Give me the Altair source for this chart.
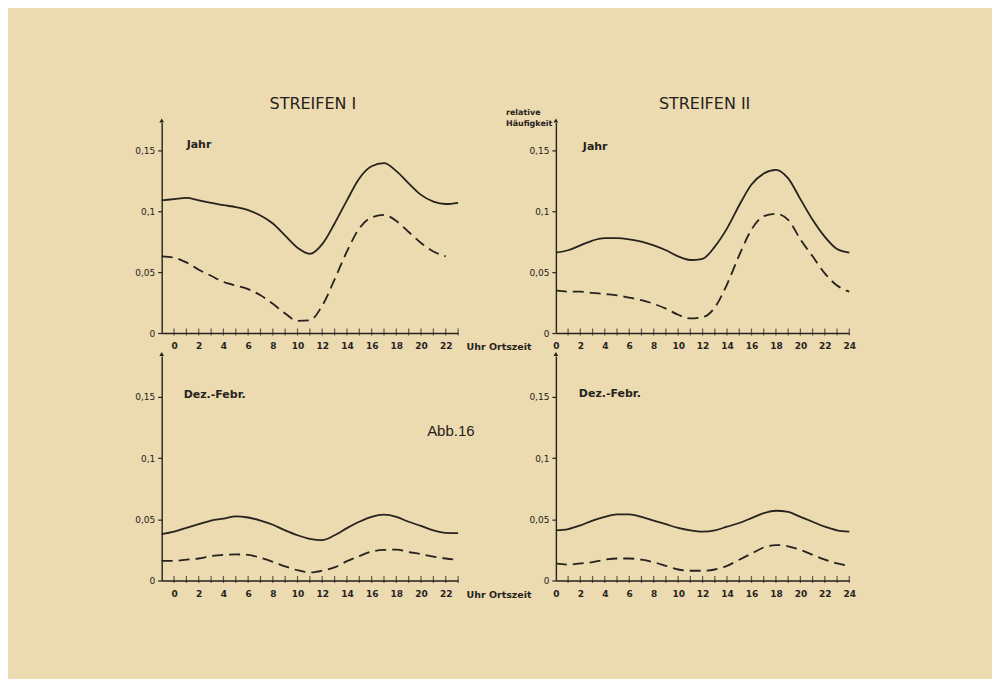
import altair as alt
import pandas as pd

# ---------------- data ----------------
hours_left = list(range(-1, 24))      # Streifen I panels: axis from -1 to 23
hours_right = list(range(0, 25))      # Streifen II panels: axis from 0 to 24
labels_left = list(range(0, 23, 2))
labels_right = list(range(0, 25, 2))
ytick_values = [0, 0.05, 0.1, 0.15]

s1_jahr_solid = [0.109, 0.110, 0.111, 0.109, 0.107, 0.105, 0.1035, 0.101, 0.0965, 0.090,
                 0.080, 0.070, 0.065, 0.073, 0.090, 0.109, 0.127, 0.137, 0.1395, 0.133,
                 0.123, 0.1135, 0.108, 0.106, 0.107]
s1_jahr_dashed = [0.063, 0.062, 0.058, 0.052, 0.047, 0.042, 0.039, 0.036, 0.031, 0.024,
                  0.016, 0.010, 0.0105, 0.0225, 0.044, 0.067, 0.086, 0.095, 0.097, 0.092,
                  0.083, 0.074, 0.067, 0.063]
s2_jahr_solid = [0.066, 0.068, 0.072, 0.076, 0.078, 0.078, 0.077, 0.075, 0.072, 0.068,
                 0.063, 0.060, 0.061, 0.071, 0.086, 0.105, 0.122, 0.131, 0.134, 0.127,
                 0.110, 0.093, 0.079, 0.069, 0.066]
s2_jahr_dashed = [0.035, 0.034, 0.034, 0.033, 0.032, 0.031, 0.029, 0.027, 0.024, 0.020,
                  0.015, 0.012, 0.013, 0.021, 0.040, 0.064, 0.085, 0.096, 0.098, 0.093,
                  0.077, 0.063, 0.049, 0.039, 0.034]
s1_dez_solid = [0.038, 0.040, 0.043, 0.046, 0.049, 0.0505, 0.0525, 0.0515, 0.049, 0.0456,
                0.041, 0.037, 0.034, 0.033, 0.037, 0.0428, 0.048, 0.052, 0.0538, 0.052,
                0.048, 0.0446, 0.041, 0.039, 0.0388]
s1_dez_dashed = [0.016, 0.016, 0.017, 0.018, 0.020, 0.021, 0.0213, 0.021, 0.0185, 0.0153,
                 0.0115, 0.0084, 0.0066, 0.008, 0.0107, 0.0158, 0.020, 0.0237, 0.025, 0.0252,
                 0.0233, 0.0216, 0.0195, 0.018, 0.017]
s2_dez_solid = [0.041, 0.042, 0.045, 0.049, 0.052, 0.054, 0.054, 0.052, 0.049, 0.046,
                0.043, 0.041, 0.040, 0.041, 0.044, 0.047, 0.051, 0.055, 0.057, 0.056,
                0.052, 0.048, 0.044, 0.041, 0.040]
s2_dez_dashed = [0.014, 0.013, 0.014, 0.015, 0.017, 0.018, 0.018, 0.017, 0.015, 0.012,
                 0.009, 0.008, 0.008, 0.009, 0.012, 0.017, 0.022, 0.027, 0.029, 0.028,
                 0.025, 0.021, 0.017, 0.014, 0.012]

titles = ["STREIFEN I", "STREIFEN II"]
period_labels = ["Jahr", "Dez.-Febr."]
x_title = "Uhr Ortszeit"
y_title_lines = ["relative", "Häufigkeit"]
figure_label = ["Abb.16"]

# ---------------- style ----------------
BG = "#ecdab0"
INK = "#26221d"
FONT = "DejaVu Sans"

W_LEFT, W_RIGHT = 297, 294
H_TOP, H_BOT = 211, 225
YMAX_TOP, YMAX_BOT = 0.173, 0.1835


def panel(hours, solid, dashed, xdom, xlabels, w, h, ymax, label, label_pos,
          title=None, title_dx=0, show_xtitle=False, extra=None):
    xscale = alt.Scale(domain=xdom, nice=False, zero=False)
    yscale = alt.Scale(domain=[0, ymax], nice=False, zero=True)
    xaxis = alt.Axis(values=xlabels, ticks=False, grid=False, labelOverlap=False,
                     labelFont=FONT, labelFontSize=9, labelFontWeight="bold",
                     labelColor=INK, labelPadding=9, labelFlush=False,
                     domainColor=INK, domainWidth=1.4,
                     title=x_title if show_xtitle else None,
                     titleX=w + 8, titleY=14, titleAlign="left",
                     titleBaseline="middle", titleAngle=0,
                     titleFont=FONT, titleFontSize=9.5, titleFontWeight="bold",
                     titleColor=INK)
    yaxis = alt.Axis(values=ytick_values, grid=False, title=None,
                     labelExpr="datum.value == 0 ? '0' : replace(format(datum.value, '.2~f'), '.', ',')",
                     labelFont=FONT, labelFontSize=9, labelColor=INK, labelPadding=3,
                     tickSize=4, tickColor=INK, tickWidth=1.2,
                     domainColor=INK, domainWidth=1.4)

    df_s = pd.DataFrame({"h": hours[:len(solid)], "v": solid})
    df_d = pd.DataFrame({"h": hours[:len(dashed)], "v": dashed})
    df_t = pd.DataFrame({"h": [x for x in hours if xdom[0] < x <= xdom[1]]})

    solid_line = alt.Chart(df_s).mark_line(
        interpolate="monotone", color=INK, strokeWidth=1.8
    ).encode(x=alt.X("h:Q", scale=xscale, axis=xaxis),
             y=alt.Y("v:Q", scale=yscale, axis=yaxis))
    dashed_line = alt.Chart(df_d).mark_line(
        interpolate="monotone", color=INK, strokeWidth=1.8, strokeDash=[11, 6]
    ).encode(x=alt.X("h:Q", scale=xscale, axis=xaxis),
             y=alt.Y("v:Q", scale=yscale, axis=yaxis))
    ticks = alt.Chart(df_t).mark_tick(
        orient="vertical", color=INK, size=7, thickness=1.2
    ).encode(x=alt.X("h:Q", scale=xscale, axis=xaxis), y=alt.value(h - 1))
    arrow = alt.Chart(pd.DataFrame({"a": [1]})).mark_point(
        shape="triangle-up", filled=True, color=INK, size=22, opacity=1
    ).encode(x=alt.value(0), y=alt.value(-2))
    lab = alt.Chart(pd.DataFrame({"t": [label]})).mark_text(
        align="left", baseline="middle", font=FONT, fontSize=11,
        fontWeight="bold", color=INK
    ).encode(x=alt.value(label_pos[0]), y=alt.value(label_pos[1]), text="t:N")

    layers = [ticks, solid_line, dashed_line, arrow, lab]
    if title is not None:
        layers.append(alt.Chart(pd.DataFrame({"t": [title]})).mark_text(
            align="center", baseline="middle", font=FONT, fontSize=16,
            color=INK
        ).encode(x=alt.value(w / 2 + title_dx), y=alt.value(-18), text="t:N"))
    if extra is not None:
        layers += extra
    return alt.layer(*layers).properties(width=w, height=h)


ylab = alt.Chart(pd.DataFrame({"t": [y_title_lines]})).mark_text(
    align="left", baseline="middle", font=FONT, fontSize=8,
    fontWeight="bold", color=INK, lineHeight=11
).encode(x=alt.value(-50), y=alt.value(-9), text="t")

abb = alt.Chart(pd.DataFrame({"t": figure_label})).mark_text(
    align="left", baseline="middle", font="Liberation Sans", fontSize=15,
    color=INK
).encode(x=alt.value(266), y=alt.value(75), text="t:N")

tl = panel(hours_left, s1_jahr_solid, s1_jahr_dashed, [-1, 23], labels_left,
           W_LEFT, H_TOP, YMAX_TOP, period_labels[0], (25, 23),
           title=titles[0], title_dx=3, show_xtitle=True)
tr = panel(hours_right, s2_jahr_solid, s2_jahr_dashed, [0, 24], labels_right,
           W_RIGHT, H_TOP, YMAX_TOP, period_labels[0], (27, 25),
           title=titles[1], title_dx=2, extra=[ylab])
bl = panel(hours_left, s1_dez_solid, s1_dez_dashed, [-1, 23], labels_left,
           W_LEFT, H_BOT, YMAX_BOT, period_labels[1], (22, 39),
           show_xtitle=True, extra=[abb])
br = panel(hours_right, s2_dez_solid, s2_dez_dashed, [0, 24], labels_right,
           W_RIGHT, H_BOT, YMAX_BOT, period_labels[1], (23, 38))

chart = alt.concat(
    tl, tr, bl, br, columns=2, bounds="flush", align="each",
    spacing={"row": 23, "column": 98},
).properties(
    background=BG,
    padding={"left": 126, "top": 88, "right": 136, "bottom": 79},
).configure_view(stroke=None).configure_axisX(labelOverlap=False)

chart.save("out.html", embed_options={"renderer": "svg", "actions": False})
